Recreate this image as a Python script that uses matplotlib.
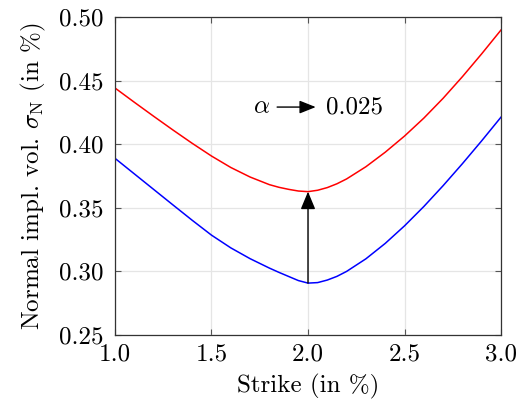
import matplotlib
matplotlib.use("Agg")
import matplotlib.pyplot as plt

plt.rcParams['font.family'] = 'serif'
plt.rcParams['font.serif'] = ['cmr10']
plt.rcParams['mathtext.fontset'] = 'cm'
plt.rcParams['axes.formatter.use_mathtext'] = True

# strikes (in %)
strike = [1.0, 1.1, 1.2, 1.3, 1.4, 1.5, 1.6, 1.7, 1.8, 1.85, 1.9, 1.95, 2.0,
          2.05, 2.1, 2.15, 2.2, 2.3, 2.4, 2.5, 2.6, 2.7, 2.8, 2.9, 3.0]

# normal implied vol, base alpha
vol_base = [0.3889, 0.3767, 0.3645, 0.3523, 0.3402, 0.3285, 0.3185, 0.3100,
            0.3026, 0.2992, 0.2960, 0.2928, 0.2908, 0.2912, 0.2932, 0.2961,
            0.3000, 0.3099, 0.3220, 0.3358, 0.3510, 0.3674, 0.3847, 0.4027,
            0.4213]

# normal implied vol, alpha -> 0.025
vol_bumped = [0.4442, 0.4330, 0.4220, 0.4112, 0.4007, 0.3907, 0.3817, 0.3742,
              0.3682, 0.3661, 0.3645, 0.3632, 0.3627, 0.3638, 0.3659, 0.3689,
              0.3727, 0.3823, 0.3937, 0.4064, 0.4205, 0.4361, 0.4531, 0.4711,
              0.4898]

xticks = [1.0, 1.5, 2.0, 2.5, 3.0]
yticks = [0.25, 0.30, 0.35, 0.40, 0.45, 0.50]

i_atm = strike.index(2.0)

fig = plt.figure(figsize=(5.27, 4.12), dpi=100)
ax = fig.add_axes([0.2182, 0.1869, 0.7325, 0.7718])

ax.plot(strike, vol_base, color='blue', lw=1.1)
ax.plot(strike, vol_bumped, color='red', lw=1.1)

# arrow from base curve up to bumped curve at the money
ax.annotate('', xy=(2.0, vol_bumped[i_atm]), xytext=(2.0, vol_base[i_atm]),
            arrowprops=dict(arrowstyle='-|>,head_length=0.6,head_width=0.25',
                            color='black', lw=1.0, mutation_scale=18,
                            shrinkA=0, shrinkB=0))

# label "alpha -> 0.025"
ty = 0.4292
ax.text(1.76, ty, r'$\alpha$', fontsize=18, ha='center', va='center')
ax.annotate('', xy=(2.04, ty), xytext=(1.84, ty),
            arrowprops=dict(arrowstyle='-|>,head_length=0.55,head_width=0.22',
                            color='black', lw=1.0, mutation_scale=18,
                            shrinkA=0, shrinkB=0))
ax.text(2.095, ty, '0.025', fontsize=18, ha='left', va='center')

ax.set_xlim(1.0, 3.0)
ax.set_ylim(0.25, 0.50)
ax.set_xticks(xticks)
ax.set_yticks(yticks)
ax.set_xticklabels(['%.1f' % v for v in xticks])
ax.set_yticklabels(['%.2f' % v for v in yticks])

ax.grid(True, color='#e5e5e5', lw=0.9)
ax.set_axisbelow(True)
ax.tick_params(direction='in', top=True, right=True, length=4, width=0.8,
               color='#555555', labelsize=18)
ax.tick_params(axis='x', pad=6)
ax.tick_params(axis='y', pad=8)
for s in ax.spines.values():
    s.set_color('#333333')
    s.set_linewidth(0.9)

ax.set_xlabel('Strike (in %)', fontsize=18, labelpad=6)
ax.set_ylabel(r'Normal impl. vol. $\sigma_{\mathrm{N}}$ (in %)', fontsize=18,
              labelpad=8)

fig.savefig('out.png', dpi=100)
